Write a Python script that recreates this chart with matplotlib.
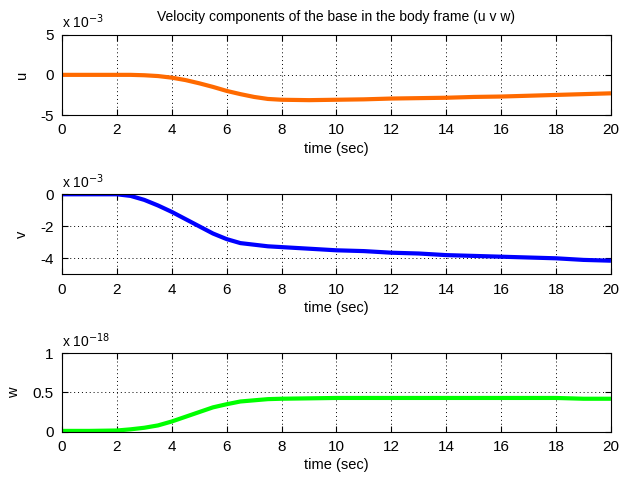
import matplotlib
matplotlib.use("Agg")
import matplotlib.pyplot as plt

# time samples (sec)
t = [0, 1, 2, 2.5, 3, 3.5, 4, 4.5, 5, 5.5, 6, 6.5, 7, 7.5, 8, 9, 10, 11, 12, 13, 14, 15, 16, 17, 18, 19, 20]

# u  (x 1e-3)
u = [0.0, 0.0, 0.0, 0.0, -0.05, -0.15, -0.35, -0.65, -1.05, -1.5, -2.0, -2.4, -2.75, -3.0, -3.1, -3.15, -3.1, -3.05, -2.95, -2.9, -2.85, -2.75, -2.7, -2.6, -2.5, -2.4, -2.3]
# v  (x 1e-3)
v = [0.0, 0.0, 0.0, -0.1, -0.35, -0.7, -1.1, -1.55, -2.0, -2.45, -2.8, -3.05, -3.15, -3.25, -3.3, -3.4, -3.5, -3.55, -3.65, -3.7, -3.8, -3.85, -3.9, -3.95, -4.0, -4.1, -4.15]
# w  (x 1e-18)
w = [0.01, 0.01, 0.015, 0.03, 0.05, 0.08, 0.13, 0.19, 0.25, 0.31, 0.35, 0.385, 0.40, 0.415, 0.42, 0.425, 0.43, 0.43, 0.43, 0.43, 0.43, 0.43, 0.43, 0.43, 0.43, 0.42, 0.42]

x_ticks = list(range(0, 21, 2))

panels = [
    # data, color, ylabel, ylim, yticks, exponent, [left, bottom, width, height]
    (u, "#ff6a00", "u", (-5, 5), [-5, 0, 5], "-3", [0.0998, 0.7614, 0.884, 0.1666]),
    (v, "#0000ff", "v", (-5, 0), [-4, -2, 0], "-3", [0.0998, 0.4309, 0.884, 0.1660]),
    (w, "#00ff00", "w", (0, 1), [0, 0.5, 1], "-18", [0.0998, 0.1044, 0.884, 0.1627]),
]

plt.rcParams["font.family"] = ["Liberation Sans", "DejaVu Sans"]

fig = plt.figure(figsize=(6.21, 4.82), dpi=100)

for i, (ys, col, lab, ylim, yt, ex, rect) in enumerate(panels):
    ax = fig.add_axes(rect)
    ax.plot(t, ys, color=col, linewidth=3.0, solid_capstyle="butt")
    ax.set_xlim(0, 20)
    ax.set_ylim(*ylim)
    ax.set_xticks(x_ticks)
    ax.set_yticks(yt)
    ax.set_yticklabels([f"{y:g}" for y in yt])
    ax.grid(True, color="black", linestyle=(0, (1, 3)), linewidth=0.7)
    ax.tick_params(direction="in", length=4, labelsize=11, top=True, right=True, width=0.8)
    ax.tick_params(axis="x", pad=6)
    ax.tick_params(axis="y", pad=6)
    for s in ax.spines.values():
        s.set_linewidth(0.8)
    ax.set_xlabel("time (sec)", fontsize=10.5, labelpad=3)
    ax.set_ylabel(lab, fontsize=10.5, labelpad=8)
    ax.text(0.0, 1.04, "x 10$^{" + ex + "}$", transform=ax.transAxes,
            fontsize=10, ha="left", va="bottom")
    if i == 0:
        ax.set_title("Velocity components of the base in the body frame (u v w)",
                     fontsize=10, pad=10)

fig.savefig("out.png", dpi=100)
